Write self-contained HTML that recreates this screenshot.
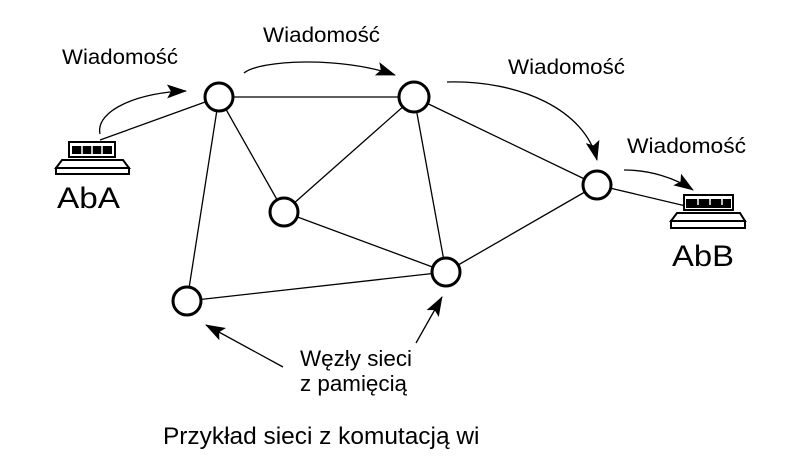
<!DOCTYPE html>
<html><head><meta charset="utf-8"><style>
html,body{margin:0;padding:0;background:#fff;width:792px;height:469px;overflow:hidden}
svg{display:block}
text{font-family:"Liberation Sans",sans-serif;fill:#000}
</style></head><body>
<svg width="792" height="469" viewBox="0 0 792 469">
<defs>
<marker id="ahb" markerWidth="20" markerHeight="14" refX="19" refY="7" orient="auto" markerUnits="userSpaceOnUse">
<path d="M0,0 L20,7 L0,14 L4,7 Z" fill="#000"/>
</marker>
</defs>
<g stroke="#000" stroke-width="1.3" fill="none">
<line x1="100" y1="140" x2="219" y2="97"/>
<line x1="219" y1="97" x2="414" y2="97"/>
<line x1="219" y1="97" x2="284" y2="212"/>
<line x1="219" y1="97" x2="187" y2="301"/>
<line x1="414" y1="97" x2="284" y2="212"/>
<line x1="414" y1="97" x2="446" y2="272"/>
<line x1="414" y1="97" x2="597" y2="185"/>
<line x1="284" y1="212" x2="446" y2="272"/>
<line x1="187" y1="301" x2="446" y2="272"/>
<line x1="446" y1="272" x2="597" y2="185"/>
<line x1="597" y1="185" x2="690" y2="207"/>
</g>
<g stroke="#000" stroke-width="1.3" fill="none">
<path d="M100,134 C95,110 140,92 186,91" marker-end="url(#ahb)"/>
<path d="M244,73 C260,60 340,56 395,75" marker-end="url(#ahb)"/>
<path d="M447,82 C520,80 585,110 597,160" marker-end="url(#ahb)"/>
<path d="M624,170 C650,170 675,178 693,190" marker-end="url(#ahb)"/>
<path d="M283,367 L206,325" marker-end="url(#ahb)"/>
<path d="M416,343 L442,297" marker-end="url(#ahb)"/>
</g>
<g stroke="#000" stroke-width="3" fill="#fff">
<circle cx="219" cy="97" r="14"/>
<circle cx="414" cy="97" r="15"/>
<circle cx="597" cy="185" r="14"/>
<circle cx="284" cy="212" r="14"/>
<circle cx="446" cy="272" r="14"/>
<circle cx="187" cy="301" r="14"/>
</g>
<g stroke="#000" fill="#fff">
<rect x="69" y="142" width="46" height="15" stroke-width="2"/>
<rect x="72" y="146" width="40" height="8" fill="#000" stroke="none"/>
<line x1="82" y1="146" x2="82" y2="154" stroke="#fff" stroke-width="1.5"/>
<line x1="92" y1="146" x2="92" y2="154" stroke="#fff" stroke-width="1.5"/>
<line x1="102" y1="146" x2="102" y2="154" stroke="#fff" stroke-width="1.5"/>
<path d="M62,160 L123,160 L129,168 L56,168 Z" stroke-width="2"/>
<rect x="56" y="168" width="73" height="6" stroke-width="2"/>
</g>
<g stroke="#000" fill="#fff">
<rect x="684" y="195" width="49" height="15" stroke-width="2"/>
<rect x="686" y="199" width="45" height="9" fill="#000" stroke="none"/>
<line x1="698" y1="199" x2="698" y2="205" stroke="#fff" stroke-width="1.5"/>
<line x1="710" y1="199" x2="710" y2="205" stroke="#fff" stroke-width="1.5"/>
<line x1="722" y1="199" x2="722" y2="205" stroke="#fff" stroke-width="1.5"/>
<path d="M677,213 L740,213 L745,221 L671,221 Z" stroke-width="2"/>
<rect x="671" y="221" width="74" height="7" stroke-width="2"/>
</g>
<text x="62" y="64" font-size="21" textLength="116" lengthAdjust="spacingAndGlyphs">Wiadomość</text>
<text x="263" y="42" font-size="21" textLength="117" lengthAdjust="spacingAndGlyphs">Wiadomość</text>
<text x="508" y="74" font-size="21" textLength="117" lengthAdjust="spacingAndGlyphs">Wiadomość</text>
<text x="627" y="153" font-size="21" textLength="119" lengthAdjust="spacingAndGlyphs">Wiadomość</text>
<text x="57" y="208" font-size="30" textLength="63" lengthAdjust="spacingAndGlyphs">AbA</text>
<text x="672" y="266" font-size="30" textLength="62" lengthAdjust="spacingAndGlyphs">AbB</text>
<text x="300" y="366" font-size="22" textLength="112" lengthAdjust="spacingAndGlyphs">Węzły sieci</text>
<text x="300" y="391" font-size="22" textLength="107" lengthAdjust="spacingAndGlyphs">z pamięcią</text>
<text x="163" y="444" font-size="24" textLength="330" lengthAdjust="spacingAndGlyphs">Przykład sieci z komutacją wia</text>
<rect x="479" y="415" width="120" height="40" fill="#fff"/>
</svg>
</body></html>
